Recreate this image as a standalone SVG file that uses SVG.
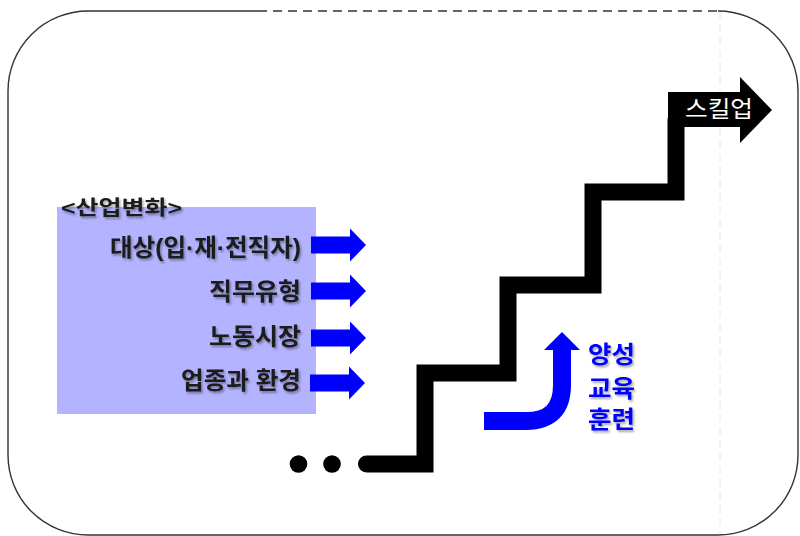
<svg xmlns="http://www.w3.org/2000/svg" width="800" height="536" viewBox="0 0 800 536">
<defs>
<style>
.frame{fill:none;stroke:#333;stroke-width:1.4}
.lbl{font-family:"Liberation Sans","Noto Sans CJK KR",sans-serif;font-weight:bold;font-size:24px;fill:#1a1a1a;text-anchor:end}
.blue{font-family:"Liberation Sans","Noto Sans CJK KR",sans-serif;font-weight:bold;font-size:24px;fill:#0000ff}
.barr{fill:#0000ff}
</style>
<filter id="sh" x="-10%" y="-20%" width="130%" height="160%">
<feDropShadow dx="1.5" dy="2" stdDeviation="1.2" flood-color="#000" flood-opacity="0.35"/>
</filter>
<path id="rarr" d="M0,-8.5 H39 V-16.5 L55,0 L39,16.5 V8.5 H0 Z"/>
</defs>
<rect width="800" height="536" fill="#fff"/>
<g id="frame">
<line x1="720" y1="11" x2="720" y2="535" stroke="#e6e6e6" stroke-width="1" stroke-dasharray="8,5"/>
<path class="frame" d="M258,11 H88 A80,80 0 0 0 8,91 V455 A80,80 0 0 0 88,535 H718 A80,80 0 0 0 798,455 V91 A80,80 0 0 0 718,11"/>
<path class="frame" d="M258,11 H718" stroke-dasharray="9,6"/>
</g>
<g id="industry-change">
<rect x="57" y="207" width="259" height="207" fill="#b3b3ff"/>
<text x="61" y="215" class="lbl" style="text-anchor:start;font-size:20px" filter="url(#sh)" textLength="121" lengthAdjust="spacingAndGlyphs">&lt;산업변화&gt;</text>
<text x="301" y="256" class="lbl" filter="url(#sh)" textLength="191" lengthAdjust="spacingAndGlyphs">대상(입·재·전직자)</text>
<text x="301" y="300" class="lbl" filter="url(#sh)" textLength="92" lengthAdjust="spacingAndGlyphs">직무유형</text>
<text x="301" y="345" class="lbl" filter="url(#sh)" textLength="92" lengthAdjust="spacingAndGlyphs">노동시장</text>
<text x="301" y="389" class="lbl" filter="url(#sh)" textLength="120" lengthAdjust="spacingAndGlyphs">업종과 환경</text>
</g>
<g id="connectors">
<use href="#rarr" class="barr" x="311" y="245"/>
<use href="#rarr" class="barr" x="311" y="291"/>
<use href="#rarr" class="barr" x="311" y="338"/>
<use href="#rarr" class="barr" x="310" y="383"/>
<path d="M484,421 H526 Q562,421 562,385 V349" fill="none" stroke="#0000ff" stroke-width="18"/>
<polygon points="544,350 580,350 562,332" fill="#0000ff"/>
</g>
<g id="stairs">
<circle cx="298.5" cy="464" r="8.8" fill="#000"/>
<circle cx="332" cy="464" r="8.8" fill="#000"/>
<path d="M366.5,464 H425 V373 H508 V285 H593 V192 H676 V120" fill="none" stroke="#000" stroke-width="17" stroke-linecap="round" stroke-linejoin="miter"/>
</g>
<g id="skillup">
<rect x="668" y="92" width="73" height="35" fill="#000"/>
<polygon points="740,77 772,110 740,143" fill="#000"/>
<text x="685" y="117" font-family="'Liberation Sans','Noto Sans CJK KR',sans-serif" font-size="23" fill="#fff" textLength="68" lengthAdjust="spacingAndGlyphs">스킬업</text>
</g>
<g id="training">
<text x="588" y="363" class="blue" filter="url(#sh)" textLength="47" lengthAdjust="spacingAndGlyphs">양성</text>
<text x="588" y="397" class="blue" filter="url(#sh)" textLength="47" lengthAdjust="spacingAndGlyphs">교육</text>
<text x="588" y="428" class="blue" filter="url(#sh)" textLength="47" lengthAdjust="spacingAndGlyphs">훈련</text>
</g>
</svg>
